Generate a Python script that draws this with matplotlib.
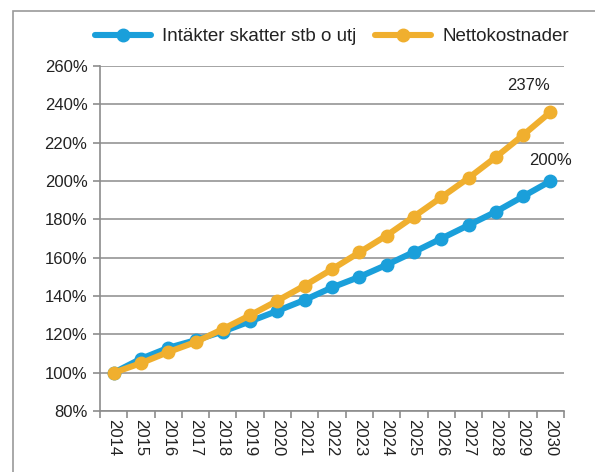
import matplotlib.pyplot as plt
from matplotlib.patches import Rectangle

plt.rcParams['font.family'] = ['Liberation Sans', 'DejaVu Sans']

years = [str(y) for y in range(2014, 2031)]
intakter = [100, 107.3, 113, 117, 121.5, 126.8, 132.3, 138, 144.5, 150,
            156.3, 163, 170, 177, 184, 192, 200]
netto = [100, 105, 110.8, 116, 122.8, 130, 137.6, 145.5, 154, 162.8,
         171.6, 181.5, 191.5, 201.6, 212.5, 224, 236]
yticks = [80, 100, 120, 140, 160, 180, 200, 220, 240, 260]

BLUE = '#1a9fda'
ORANGE = '#f0af2e'
GRID = '#8c8c8c'
TEXT = '#222222'

fig = plt.figure(figsize=(5.95, 4.72), dpi=100)
ax = fig.add_axes([0.168, 0.129, 0.780, 0.731])

# grey frame round the chart
fig.patches.append(Rectangle((13 / 595, -0.1), 1.2, 1 - 11 / 472 + 0.1,
                             transform=fig.transFigure, fill=False,
                             edgecolor='#9a9a9a', linewidth=1.2))

x = list(range(len(years)))
ax.plot(x, intakter, color=BLUE, linewidth=4.4, marker='o', markersize=9,
        label='Intäkter skatter stb o utj', zorder=3, solid_capstyle='round')
ax.plot(x, netto, color=ORANGE, linewidth=4.4, marker='o', markersize=9,
        label='Nettokostnader', zorder=4, solid_capstyle='round')

ax.set_xlim(-0.5, len(years) - 0.5)
ax.set_ylim(80, 260)
ax.set_yticks(yticks)
ax.set_yticklabels([f'{v}%' for v in yticks], fontsize=12, color=TEXT)

ax.set_xticks(x)
ax.set_xticklabels(years, rotation=270, fontsize=12, color=TEXT)
ax.set_xticks([i - 0.5 for i in range(len(years) + 1)], minor=True)
ax.tick_params(axis='x', which='major', length=0, pad=6)
ax.tick_params(axis='x', which='minor', length=5, color=GRID, width=1.2)
ax.tick_params(axis='y', length=5, color=GRID, width=1.2, pad=4)

ax.grid(axis='y', color=GRID, linewidth=1.1)
ax.set_axisbelow(True)
for side in ['top', 'right']:
    ax.spines[side].set_visible(False)
for side in ['left', 'bottom']:
    ax.spines[side].set_color(GRID)
    ax.spines[side].set_linewidth(1.2)

ax.annotate('237%', (x[-1], netto[-1]), xytext=(-16, 19),
            textcoords='offset points', ha='center', va='center',
            fontsize=12, color=TEXT)
ax.annotate('200%', (x[-1], intakter[-1]), xytext=(0, 15),
            textcoords='offset points', ha='center', va='center',
            fontsize=12, color=TEXT)

ax.legend(loc='center', bbox_to_anchor=(0.5, 1.085), ncol=2, frameon=False,
          fontsize=13.5, handlelength=3.0, handletextpad=0.6,
          columnspacing=1.0, labelcolor=TEXT)

fig.savefig('out.png', dpi=100)
